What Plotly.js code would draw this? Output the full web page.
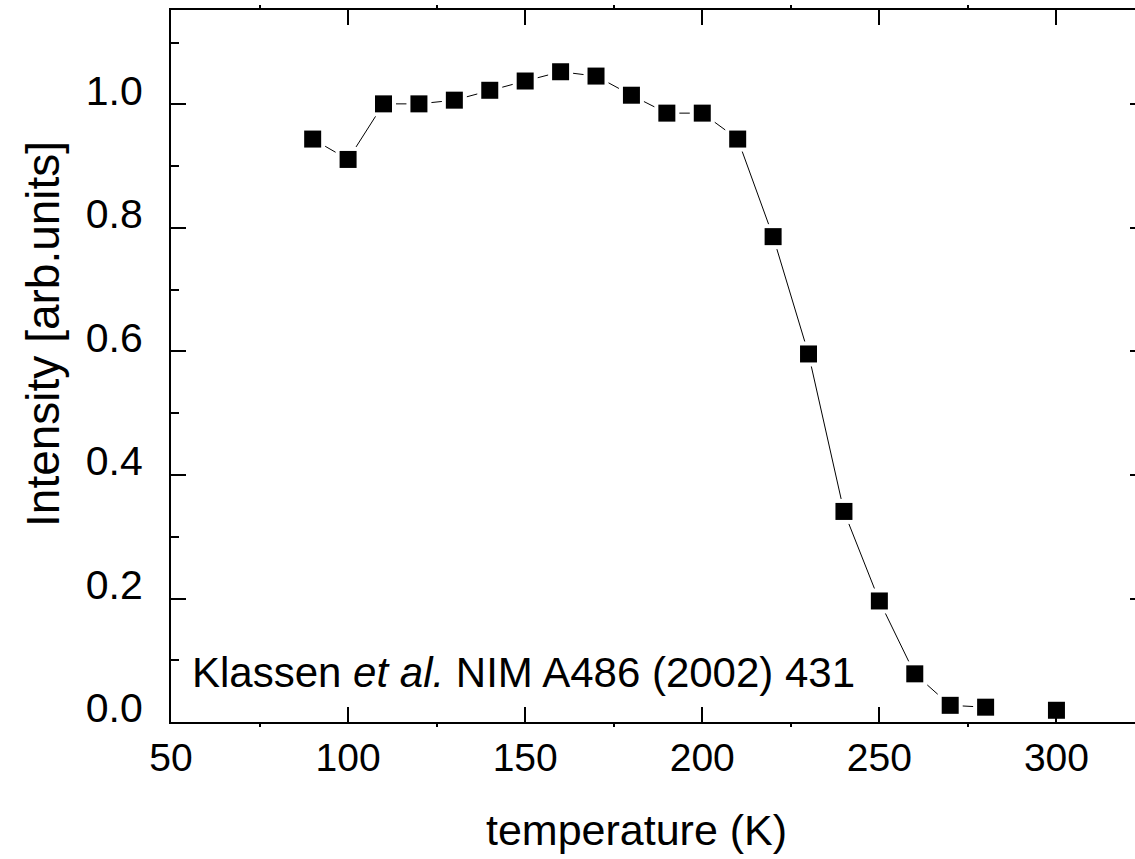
<!DOCTYPE html>
<html>
<head>
<meta charset="utf-8">
<script src="https://cdn.plot.ly/plotly-3.0.1.min.js"></script>
<style>
html, body { margin: 0; padding: 0; background: #fff; overflow: hidden; }
#chart { width: 1150px; height: 859px; }
</style>
</head>
<body>
<div id="chart"></div>
<script>
const temperature = [90, 100, 110, 120, 130, 140, 150, 160, 170, 180, 190, 200, 210, 220, 230, 240, 250, 260, 270, 280, 300];
const intensity = [0.944, 0.911, 1.001, 1.001, 1.007, 1.023, 1.038, 1.053, 1.046, 1.015, 0.986, 0.986, 0.944, 0.786, 0.596, 0.341, 0.196, 0.078, 0.027, 0.024, 0.019];
const lineTemps = temperature.slice(0, 20);
const lineVals = intensity.slice(0, 20);

const xTickVals = [50, 100, 150, 200, 250, 300];
const yTickVals = [0.0, 0.2, 0.4, 0.6, 0.8, 1.0];
const yTickText = ['0.0', '0.2', '0.4', '0.6', '0.8', '1.0'];

const citation = 'Klassen <i>et al.</i> NIM A486 (2002) 431';
const xTitle = 'temperature (K)';
const yTitle = 'Intensity [arb.units]';

const FONT = 'Liberation Sans, Arial, Helvetica, sans-serif';

const traces = [
  { x: lineTemps, y: lineVals, type: 'scatter', mode: 'lines',
    line: { color: '#000', width: 1 }, hoverinfo: 'skip', showlegend: false },
  { x: temperature, y: intensity, type: 'scatter', mode: 'markers',
    marker: { symbol: 'square', size: 25, color: '#fff' }, hoverinfo: 'skip', showlegend: false },
  { x: temperature, y: intensity, type: 'scatter', mode: 'markers',
    marker: { symbol: 'square', size: 17, color: '#000' }, showlegend: false }
];

const axisCommon = {
  showline: true, linecolor: '#000', linewidth: 2,
  mirror: 'allticks', ticks: 'inside', ticklen: 15, tickwidth: 2, tickcolor: '#000',
  showgrid: false, zeroline: false, layer: 'above traces'
};

const layout = {
  width: 1150, height: 859,
  margin: { l: 171, r: 5, t: 10, b: 137 },
  paper_bgcolor: '#fff', plot_bgcolor: '#fff',
  font: { family: FONT, color: '#000' },
  showlegend: false,
  xaxis: Object.assign({}, axisCommon, {
    range: [50, 325],
    tickvals: xTickVals,
    tickfont: { size: 39, family: FONT, color: '#000' },
    ticklabelstandoff: 0,
    minor: { tickvals: [75, 125, 175, 225, 275, 325], ticks: 'outside', ticklen: 3, tickwidth: 2, tickcolor: '#000' }
  }),
  yaxis: Object.assign({}, axisCommon, {
    range: [0, 1.153],
    tickvals: yTickVals, ticktext: yTickText,
    tickfont: { size: 41, family: FONT, color: '#000' },
    ticklabelstandoff: 18,
    ticklabelshift: -14,
    minor: { tickvals: [0.1, 0.3, 0.5, 0.7, 0.9, 1.1], ticks: 'inside', ticklen: 8, tickwidth: 2, tickcolor: '#000' }
  }),
  annotations: [
    { text: citation, xref: 'x', yref: 'y', x: 55.35, y: 0.08, xanchor: 'left', yanchor: 'middle',
      showarrow: false, font: { size: 42, family: FONT, color: '#000' } },
    { text: xTitle, xref: 'paper', yref: 'paper', x: 0.478, y: -0.152, xanchor: 'center', yanchor: 'middle',
      showarrow: false, font: { size: 43, family: FONT, color: '#000' } },
    { text: yTitle, xref: 'paper', yref: 'paper', x: -0.132, y: 0.5456, xanchor: 'center', yanchor: 'middle',
      textangle: -90, showarrow: false, font: { size: 46, family: FONT, color: '#000' } }
  ]
};

Plotly.newPlot('chart', traces, layout, { displayModeBar: false, staticPlot: true });
</script>
</body>
</html>
